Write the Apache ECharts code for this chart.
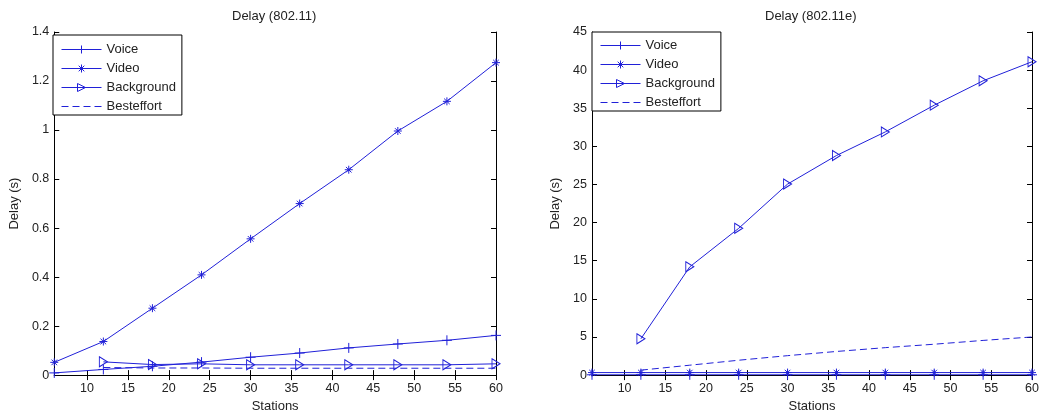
<!DOCTYPE html>
<html>
<head>
<meta charset="utf-8">
<script src="https://cdn.jsdelivr.net/npm/echarts@6/dist/echarts.min.js"></script>
<style>
html, body { margin: 0; padding: 0; background: #fff; }
#c1 { position: absolute; left: 0; top: 0; width: 520px; height: 418px; }
#c2 { position: absolute; left: 520px; top: 0; width: 523px; height: 418px; }
</style>
</head>
<body>
<div id="c1"></div>
<div id="c2"></div>
<script>
// stations on the x axis
var stations = [6, 12, 18, 24, 30, 36, 42, 48, 54, 60];
var xTicks = [10, 15, 20, 25, 30, 35, 40, 45, 50, 55, 60];

// Delay (802.11)
var voice1 = [0.009, 0.023, 0.036, 0.053, 0.073, 0.09, 0.111, 0.127, 0.142, 0.162];
var video1 = [0.052, 0.137, 0.273, 0.409, 0.556, 0.70, 0.838, 0.996, 1.117, 1.275];
var bg1 = [null, 0.054, 0.043, 0.046, 0.042, 0.042, 0.042, 0.042, 0.042, 0.046];
var be1 = [null, 0.031, 0.029, 0.029, 0.028, 0.028, 0.028, 0.028, 0.028, 0.028];

// Delay (802.11e)
var voice2 = [0.04, 0.04, 0.04, 0.04, 0.04, 0.04, 0.04, 0.04, 0.04, 0.04];
var video2 = [0.33, 0.33, 0.33, 0.33, 0.33, 0.33, 0.33, 0.33, 0.33, 0.33];
var bg2 = [null, 4.76, 14.2, 19.25, 25.05, 28.8, 31.9, 35.4, 38.6, 41.1];
var be2 = [null, 0.65, 1.3, 1.95, 2.55, 3.1, 3.6, 4.05, 4.55, 5.0];

var BLUE = '#2020d8';
var NOFILL = 'rgba(0,0,0,0)';
var FONT = 'Liberation Sans';
var symPlus = 'path://M0,-1L0,1M-1,0L1,0';
var symStar = 'path://M-1,0L1,0M0,-1L0,1M-0.7,-0.7L0.7,0.7M-0.7,0.7L0.7,-0.7';
var symTri = 'path://M-1,-1L1,0L-1,1Z';

function pairs(arr) {
    var out = [];
    for (var i = 0; i < stations.length; i++) {
        if (arr[i] != null) out.push([stations[i], arr[i]]);
    }
    return out;
}

function makeSeries(voice, video, bg, be) {
    var mk = function (name, arr, sym, size, dashed) {
        return {
            name: name,
            type: 'line',
            data: pairs(arr),
            symbol: sym || 'none',
            symbolSize: size,
            lineStyle: { color: BLUE, width: 1, type: dashed ? [7, 4] : 'solid' },
            itemStyle: { color: NOFILL, borderColor: sym ? BLUE : NOFILL, borderWidth: 1 },
            emphasis: { disabled: true }
        };
    };
    return [
        mk('Voice', voice, symPlus, 10),
        mk('Video', video, symStar, 8),
        mk('Background', bg, symTri, [8, 10]),
        mk('Besteffort', be, null, 0, true)
    ];
}

function makeOption(o) {
    var tickCommon = { show: true, inside: true, length: 5, lineStyle: { color: '#000' } };
    var lineCommon = { show: true, lineStyle: { color: '#000', width: 1 } };
    return {
        animation: false,
        title: {
            text: o.title, left: o.titleLeft, top: 10, padding: 0,
            textStyle: { fontFamily: FONT, fontSize: 13, fontWeight: 'normal', color: '#222' }
        },
        legend: {
            orient: 'vertical', left: o.legLeft, top: o.legTop,
            padding: o.legPad, itemWidth: 40, itemHeight: 10, itemGap: 6,
            backgroundColor: '#fff', borderColor: '#000', borderWidth: 1, borderRadius: 0,
            selectedMode: false,
            lineStyle: { width: 1, color: BLUE },
            itemStyle: { color: NOFILL, borderColor: BLUE, borderWidth: 1 },
            textStyle: { fontFamily: FONT, fontSize: 13, color: '#222' },
            data: ['Voice', 'Video', 'Background',
                { name: 'Besteffort', itemStyle: { color: NOFILL, borderColor: NOFILL } }]
        },
        grid: { left: o.gridLeft, right: o.gridRight, top: 32, bottom: 39, show: false },
        xAxis: [{
            type: 'value', min: 6, max: 60, position: 'bottom',
            name: 'Stations', nameLocation: 'middle', nameGap: 23,
            nameTextStyle: { fontFamily: FONT, fontSize: 13, color: '#222' },
            axisLine: lineCommon,
            axisTick: Object.assign({ customValues: xTicks }, tickCommon),
            axisLabel: { customValues: xTicks, margin: 7, fontFamily: FONT, fontSize: 12.5, color: '#222' },
            splitLine: { show: false }
        }, {
            type: 'value', min: 6, max: 60, position: 'top',
            axisLine: lineCommon,
            axisTick: Object.assign({ customValues: xTicks }, tickCommon),
            axisLabel: { show: false },
            splitLine: { show: false }
        }],
        yAxis: [{
            type: 'value', min: 0, max: o.yMax, interval: o.yInt, position: 'left',
            name: 'Delay (s)', nameLocation: 'middle', nameGap: o.yNameGap,
            nameTextStyle: { fontFamily: FONT, fontSize: 13, color: '#222' },
            axisLine: lineCommon, axisTick: tickCommon,
            axisLabel: { margin: 5, fontFamily: FONT, fontSize: 12.5, color: '#222' },
            splitLine: { show: false }
        }, {
            type: 'value', min: 0, max: o.yMax, interval: o.yInt, position: 'right',
            axisLine: lineCommon, axisTick: tickCommon,
            axisLabel: { show: false },
            splitLine: { show: false }
        }],
        series: makeSeries(o.voice, o.video, o.bg, o.be)
    };
}

var chart1 = echarts.init(document.getElementById('c1'));
chart1.setOption(makeOption({
    title: 'Delay (802.11)', titleLeft: 232,
    legLeft: 53, legTop: 35, legPad: [8, 6, 2, 8],
    gridLeft: 53, gridRight: 24,
    yMax: 1.4, yInt: 0.2, yNameGap: 31,
    voice: voice1, video: video1, bg: bg1, be: be1
}));

var chart2 = echarts.init(document.getElementById('c2'));
chart2.setOption(makeOption({
    title: 'Delay (802.11e)', titleLeft: 245,
    legLeft: 72, legTop: 32, legPad: [7, 6, 2, 8],
    gridLeft: 72, gridRight: 11,
    yMax: 45, yInt: 5, yNameGap: 28,
    voice: voice2, video: video2, bg: bg2, be: be2
}));
</script>
</body>
</html>
